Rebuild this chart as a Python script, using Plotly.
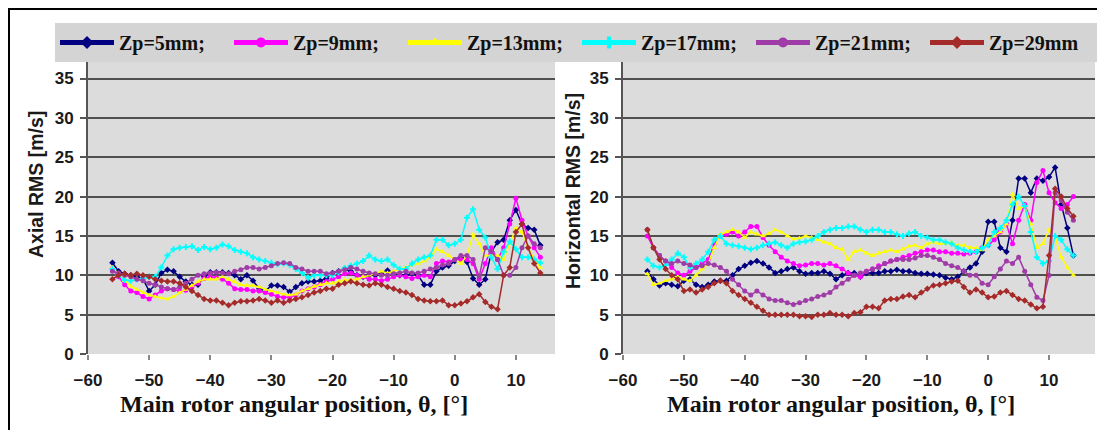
import plotly.graph_objects as go

theta = [-56, -55, -54, -53, -52, -51, -50, -49, -48, -47, -46, -45, -44, -43, -42, -41,
         -40, -39, -38, -37, -36, -35, -34, -33, -32, -31, -30, -29, -28, -27, -26, -25,
         -24, -23, -22, -21, -20, -19, -18, -17, -16, -15, -14, -13, -12, -11, -10, -9,
         -8, -7, -6, -5, -4, -3, -2, -1, 0, 1, 2, 3, 4, 5, 6, 7, 8, 9, 10, 11, 12, 13, 14]

series_names = ["Zp=5mm;", "Zp=9mm;", "Zp=13mm;", "Zp=17mm;", "Zp=21mm;", "Zp=29mm"]
series_colors = ["#000080", "#ff00ff", "#ffff00", "#00ffff", "#a03ca8", "#a52a2a"]
series_symbols = ["diamond", "circle", "triangle-up", "cross", "circle", "diamond"]

# ---- Axial RMS [m/s] ----
axial_5 = [11.6, 10.5, 10.2, 10.0, 9.8, 9.5, 8.0, 8.8, 10.3, 10.7, 10.5, 9.8, 9.2, 8.8, 8.8, 9.8,
           10.4, 10.4, 10.4, 10.3, 10.0, 9.5, 10.0, 9.3, 8.3, 8.0, 8.7, 8.7, 8.5, 7.9, 8.5, 9.0,
           9.2, 9.2, 9.3, 9.6, 10.3, 10.5, 10.8, 10.5, 10.0, 9.8, 10.0, 10.0, 10.3, 10.6, 10.3, 10.0,
           10.0, 10.2, 10.0, 8.8, 8.8, 10.5, 11.0, 11.2, 11.8, 12.3, 11.7, 9.6, 8.8, 9.5, 13.0, 14.2,
           14.5, 17.0, 18.3, 16.5, 16.0, 15.8, 13.8]
axial_9 = [10.8, 9.8, 8.8, 8.0, 7.8, 7.3, 7.0, 7.5, 8.0, 8.3, 8.2, 8.0, 8.1, 8.5, 9.0, 9.6,
           9.8, 9.7, 9.5, 9.0, 8.3, 8.2, 8.2, 8.0, 8.0, 7.8, 7.6, 7.3, 7.2, 7.2, 7.5, 8.0,
           8.3, 8.5, 8.8, 9.2, 9.5, 9.8, 10.2, 10.3, 10.0, 9.8, 9.5, 9.5, 9.3, 9.5, 9.8, 10.0,
           9.8, 9.6, 9.8, 10.0, 9.8, 11.5, 11.8, 11.7, 12.0, 12.0, 12.0, 11.5, 9.5, 11.5, 13.5, 12.0,
           13.5, 16.5, 19.8, 17.0, 15.0, 13.5, 12.3]
axial_13 = [11.0, 10.2, 9.3, 8.6, 8.2, 7.8, 7.5, 7.3, 7.1, 7.0, 7.3, 7.8, 8.2, 8.7, 9.2, 9.5,
            9.5, 9.5, 9.8, 9.5, 9.2, 8.8, 8.7, 8.7, 8.5, 8.2, 8.0, 7.8, 7.6, 7.5, 7.6, 8.0,
            8.3, 8.6, 8.8, 9.0, 9.0, 9.2, 9.4, 9.4, 9.5, 9.8, 10.0, 10.2, 10.5, 10.3, 10.5, 10.8,
            11.0, 11.3, 11.5, 11.8, 12.3, 13.3, 13.0, 12.5, 12.0, 11.5, 12.5, 15.2, 14.0, 12.5, 12.5, 12.5,
            12.0, 14.0, 16.0, 15.5, 13.5, 12.0, 11.0]
axial_17 = [10.8, 10.0, 9.4, 9.3, 9.5, 9.5, 9.8, 9.8, 11.0, 12.5, 13.3, 13.5, 13.6, 13.7, 13.2, 13.6,
            13.3, 13.5, 13.9, 13.7, 13.2, 13.0, 12.8, 12.3, 12.0, 11.8, 11.6, 11.4, 11.5, 11.3, 10.8, 10.3,
            9.7, 10.0, 10.0, 10.0, 10.0, 10.4, 10.9, 11.2, 11.5, 11.8, 12.5, 12.0, 11.8, 12.0, 11.3, 10.8,
            10.8, 11.5, 12.0, 12.3, 12.5, 14.5, 14.5, 13.8, 14.0, 14.5, 17.3, 18.4, 15.8, 14.8, 12.3, 10.8,
            13.0, 14.3, 13.3, 12.3, 12.3, 12.0, 11.6]
axial_21 = [10.5, 10.3, 10.0, 9.8, 9.5, 9.3, 9.0, 8.8, 8.5, 8.3, 8.2, 8.5, 9.0, 9.5, 10.0, 10.2,
            10.3, 10.4, 10.3, 10.2, 10.5, 10.7, 11.0, 11.0, 10.8, 11.0, 11.2, 11.5, 11.6, 11.5, 11.0, 10.8,
            10.5, 10.5, 10.5, 10.2, 10.3, 10.5, 10.7, 11.0, 10.8, 10.5, 10.3, 10.2, 10.0, 10.0, 10.2, 10.3,
            10.5, 10.3, 10.3, 10.5, 10.8, 11.0, 11.3, 11.5, 12.0, 12.5, 12.5, 12.0, 9.8, 13.5, 13.0, 12.0,
            10.0, 10.0, 11.0, 13.5, 15.0, 14.0, 13.5]
axial_29 = [9.5, 10.0, 10.2, 10.0, 10.2, 10.0, 9.8, 9.5, 9.3, 9.2, 9.2, 9.0, 8.5, 8.0, 7.5, 7.0,
            6.8, 6.8, 6.5, 6.2, 6.5, 6.7, 6.7, 6.8, 7.0, 6.8, 6.5, 6.8, 6.5, 6.8, 7.0, 7.2,
            7.5, 7.8, 8.0, 8.3, 8.3, 8.8, 9.0, 9.2, 9.0, 8.8, 8.7, 9.0, 8.8, 8.5, 8.3, 8.0,
            7.8, 7.5, 7.0, 6.8, 6.7, 6.7, 6.8, 6.2, 6.2, 6.4, 6.7, 7.2, 7.6, 6.6, 6.0, 5.7,
            10.0, 11.0, 15.5, 16.5, 13.5, 11.5, 10.3]

# ---- Horizontal RMS [m/s] ----
horiz_5 = [10.5, 9.5, 8.7, 9.0, 8.8, 8.6, 9.3, 9.5, 8.8, 8.5, 8.8, 9.2, 9.3, 9.3, 10.0, 10.8,
           11.2, 11.6, 11.8, 11.5, 11.0, 10.3, 10.5, 10.8, 11.0, 10.5, 10.2, 10.3, 10.3, 10.5, 10.2, 9.5,
           10.0, 10.3, 10.3, 9.8, 10.3, 10.3, 10.3, 10.5, 10.5, 10.7, 10.5, 10.5, 10.3, 10.2, 10.2, 10.1,
           10.0, 9.7, 9.5, 9.8, 10.5, 11.0, 11.5, 13.0, 16.8, 16.8, 13.5, 13.0, 17.0, 22.3, 22.3, 20.5,
           22.3, 22.0, 22.5, 23.7, 19.0, 16.0, 12.5]
horiz_9 = [15.0, 13.5, 12.5, 11.8, 11.0, 10.3, 10.0, 10.5, 11.0, 11.5, 12.0, 14.0, 15.0, 15.2, 15.5, 15.0,
           15.5, 16.2, 16.2, 14.8, 13.8, 13.0, 12.3, 11.8, 11.5, 11.2, 11.3, 11.5, 11.5, 11.3, 11.5, 11.2,
           10.8, 10.3, 10.0, 9.8, 10.5, 10.8, 11.2, 11.5, 11.8, 12.0, 12.3, 12.5, 12.8, 13.0, 13.2, 13.2,
           13.0, 13.0, 12.8, 12.8, 12.7, 12.8, 13.0, 13.5, 13.8, 14.5, 15.5, 16.5, 14.0, 17.0, 19.0, 17.0,
           21.8, 23.3, 20.5, 19.2, 18.5, 19.0, 20.0]
horiz_13 = [10.2, 8.8, 9.0, 9.3, 9.5, 9.8, 9.5, 9.3, 10.0, 10.8, 11.5, 13.5, 15.2, 15.5, 15.8, 15.5,
            14.8, 15.5, 15.2, 15.0, 15.3, 15.8, 15.5, 15.0, 14.6, 14.7, 15.0, 14.8, 14.5, 14.2, 14.0, 13.5,
            13.3, 12.0, 13.0, 13.2, 12.8, 12.5, 12.8, 13.0, 13.2, 13.0, 13.3, 13.7, 13.8, 13.5, 14.0, 14.2,
            14.0, 14.0, 14.2, 13.8, 13.8, 13.5, 13.5, 13.2, 14.5, 15.0, 15.5, 16.5, 20.3, 18.5, 18.8, 16.5,
            13.5, 14.0, 15.8, 14.8, 12.3, 11.0, 10.0]
horiz_17 = [12.0, 11.2, 11.0, 11.3, 12.0, 12.8, 12.3, 11.0, 11.5, 12.0, 13.0, 14.5, 15.0, 14.0, 13.8, 13.7,
            13.5, 13.3, 13.5, 13.8, 14.0, 14.2, 13.8, 13.5, 14.0, 14.2, 14.3, 14.5, 15.0, 15.5, 15.8, 16.0,
            16.0, 16.2, 16.2, 15.8, 15.5, 15.8, 15.8, 15.5, 15.5, 15.2, 15.0, 15.3, 15.5, 15.0, 14.8, 14.5,
            14.5, 14.2, 14.0, 13.5, 13.2, 13.0, 13.0, 13.5, 13.8, 15.5, 16.0, 17.0, 19.0, 20.0, 18.8, 15.5,
            12.3, 11.5, 11.8, 15.0, 14.5, 13.3, 12.5]
horiz_21 = [15.8, 13.5, 12.5, 11.8, 11.5, 11.8, 11.5, 11.3, 11.0, 11.2, 11.5, 11.3, 11.0, 10.5, 9.5, 8.8,
            8.0, 7.5, 8.0, 7.5, 7.0, 6.8, 6.8, 6.5, 6.3, 6.5, 6.8, 7.0, 7.3, 7.5, 7.8, 8.5,
            9.0, 9.5, 10.0, 10.3, 10.5, 10.8, 11.0, 11.5, 11.8, 12.0, 12.0, 12.0, 12.2, 12.5, 12.5, 12.3,
            12.0, 11.5, 11.2, 11.0, 10.5, 10.0, 10.0, 9.0, 8.8, 9.8, 10.8, 11.8, 11.5, 12.3, 10.5, 8.8,
            7.2, 6.8, 10.0, 20.5, 19.5, 18.0, 17.0]
horiz_29 = [15.8, 13.5, 12.0, 10.8, 10.0, 9.5, 8.0, 8.2, 7.8, 8.2, 8.5, 9.0, 9.3, 9.0, 8.0, 7.5,
            7.0, 6.5, 6.0, 5.5, 5.0, 5.0, 5.0, 5.0, 5.0, 4.8, 4.8, 4.7, 5.0, 5.0, 5.2, 5.0,
            5.0, 4.8, 5.2, 5.3, 6.0, 6.0, 5.8, 6.8, 7.0, 7.0, 7.3, 7.5, 7.2, 7.8, 8.3, 8.7,
            8.8, 9.0, 9.2, 9.3, 8.5, 7.8, 8.2, 7.8, 7.2, 7.3, 7.8, 8.0, 7.5, 7.0, 6.8, 6.3,
            5.8, 6.0, 12.5, 21.0, 20.0, 18.5, 17.5]

axial = [axial_5, axial_9, axial_13, axial_17, axial_21, axial_29]
horiz = [horiz_5, horiz_9, horiz_13, horiz_17, horiz_21, horiz_29]

y_ticks = [0, 5, 10, 15, 20, 25, 30, 35]
x_ticks = [-60, -50, -40, -30, -20, -10, 0, 10]

# page body keeps a default 8px margin: the figure is sized to fit the window
OFF = 8
W, H = 1105 - OFF, 430 - OFF
def px(x):
    return (x - OFF) / W
def py(y):
    return 1 - (y - OFF) / H

fig = go.Figure()

for i in range(6):
    for vals, xa, ya in ((axial[i], "x", "y"), (horiz[i], "x2", "y2")):
        fig.add_trace(go.Scatter(
            x=theta, y=vals, xaxis=xa, yaxis=ya, mode="lines+markers",
            line=dict(color=series_colors[i], width=1.5),
            marker=dict(color=series_colors[i], size=5, symbol=series_symbols[i]),
            showlegend=False, hoverinfo="x+y"))

# legend-only entries (thick sample lines like the original key)
for i in range(6):
    fig.add_trace(go.Scatter(
        x=[None], y=[None], mode="lines+markers", name=series_names[i],
        line=dict(color=series_colors[i], width=5),
        marker=dict(color=series_colors[i], size=10, symbol=series_symbols[i]),
        showlegend=True))

axis_common_y = dict(
    range=[0, 37.35], tickvals=y_ticks, showgrid=True, gridcolor="#505050", gridwidth=2,
    zeroline=False, showline=True, linecolor="#555555", linewidth=2,
    ticks="outside", ticklen=6, tickwidth=1.5, tickcolor="#555555",
    tickfont=dict(family="Liberation Sans", size=17, color="#1a1a1a", weight="bold"),
    ticklabelstandoff=3, fixedrange=True)
axis_common_x = dict(
    tickvals=x_ticks, showgrid=False, zeroline=False, showline=False,
    ticks="outside", ticklen=5, tickwidth=1.5, tickcolor="#888888",
    tickfont=dict(family="Liberation Sans", size=17, color="#1a1a1a", weight="bold"),
    ticklabelstandoff=6, fixedrange=True)

fig.update_layout(
    width=W, height=H,
    margin=dict(l=0, r=0, t=0, b=0, autoexpand=False),
    paper_bgcolor="white", plot_bgcolor="#dcdcdc",
    xaxis=dict(domain=[px(88), px(555)], range=[-60, 16.4], anchor="y", **axis_common_x),
    yaxis=dict(domain=[py(354), py(60)], anchor="x", **axis_common_y),
    xaxis2=dict(domain=[px(623), px(1095)], range=[-60, 17.55], anchor="y2", **axis_common_x),
    yaxis2=dict(domain=[py(354), py(60)], anchor="x2", **axis_common_y),
    legend=dict(orientation="h", x=px(55), y=py(23), xanchor="left", yanchor="top",
                bgcolor="#d4d4d4", itemwidth=54, entrywidth=105, entrywidthmode="pixels",
                font=dict(family="Liberation Serif", size=20, color="#111111", weight="bold"),
                tracegroupgap=0, itemclick=False, itemdoubleclick=False),
    showlegend=True,
)

fig.add_annotation(text="Axial RMS [m/s]", xref="paper", yref="paper", x=px(36), y=py(185),
                   xanchor="center", yanchor="middle", textangle=-90, showarrow=False,
                   font=dict(family="Liberation Sans", size=19.5, color="#1a1a1a", weight="bold"))
fig.add_annotation(text="Horizontal RMS [m/s]", xref="paper", yref="paper", x=px(573), y=py(191),
                   xanchor="center", yanchor="middle", textangle=-90, showarrow=False,
                   font=dict(family="Liberation Sans", size=19.5, color="#1a1a1a", weight="bold"))
for cx in (294, 841):
    fig.add_annotation(text="Main rotor angular position, θ, [°]", xref="paper", yref="paper",
                       x=px(cx), y=py(404), xanchor="center", yanchor="middle", showarrow=False,
                       font=dict(family="Liberation Serif", size=24, color="#111111", weight="bold"))

# outer frame (left and top edges visible in the original)
fig.add_shape(type="line", xref="paper", yref="paper", x0=0, x1=0, y0=0, y1=1,
              line=dict(color="black", width=4))
fig.add_shape(type="line", xref="paper", yref="paper", x0=0, x1=1, y0=1, y1=1,
              line=dict(color="black", width=4))

fig.write_html("out.html")
